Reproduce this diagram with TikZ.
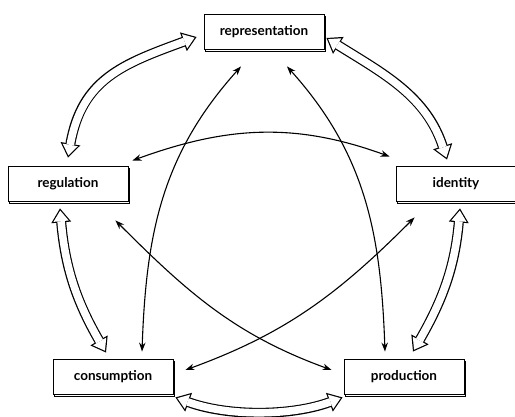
\documentclass[tikz,border=0pt]{standalone}
\usepackage{fontspec}
\setmainfont{Lato}
\usetikzlibrary{positioning,arrows.meta,shadows}

\tikzset{
  stage/.style={draw, fill=white, line width=0.9pt, minimum width=120pt, minimum height=35pt, inner sep=0pt,
    font=\fontsize{13.5}{15}\selectfont\bfseries, copy shadow={shadow xshift=1.6pt, shadow yshift=-1.6pt}},
  link/.style={line width=1.1pt, {Stealth[length=9pt,width=6.5pt]}-{Stealth[length=9pt,width=6.5pt]}},
  flow/.style={preaction={draw=black, line width=10pt, shorten <=0pt, shorten >=0pt,
      {Triangle[width=20pt,length=14pt,line width=0pt]}-{Triangle[width=20pt,length=14pt,line width=0pt]}},
    draw=white, line width=7.6pt, shorten <=2.1pt, shorten >=2.1pt,
    {Triangle[width=15.3pt,length=10.7pt,line width=0pt]}-{Triangle[width=15.3pt,length=10.7pt,line width=0pt]}}
}

\begin{document}
\begin{tikzpicture}[x=1pt, y=1pt, on grid]
  \useasboundingbox (0,0) rectangle (515,417);
  \node[stage] (rep) at (264,385) {representation};
  \node[stage, below left=152pt and 196pt of rep] (reg) {regulation};
  \node[stage, below right=152pt and 192pt of rep] (ident) {identity};
  \node[stage, below right=193pt and 45pt of reg] (cons) {consumption};
  \node[stage, right=291pt of cons] (prod) {production};

  \draw[flow] ([xshift=2pt,yshift=-6pt]rep.east) to[out=-32, in=108] ([xshift=-9pt,yshift=6.5pt]ident.north);
  \draw[flow] ([xshift=-7pt,yshift=-5pt]rep.west) to[out=200, in=80, looseness=1.15] ([yshift=8.5pt]reg.north);
  \draw[flow] ([xshift=-8pt,yshift=-6.5pt]reg.south) to[out=-85, in=120] ([xshift=-7pt,yshift=6.5pt]cons.north);
  \draw[flow] ([xshift=4pt,yshift=-6.5pt]ident.south) to[out=-95, in=60] ([xshift=9pt,yshift=7.5pt]prod.north);
  \draw[flow] ([xshift=2pt,yshift=-2.5pt]cons.south east) to[out=-20, in=200, looseness=0.85] ([xshift=-1pt,yshift=-2.5pt]prod.south west);

  \draw[link] ([xshift=-23pt,yshift=-16.5pt]rep.south) to[out=228, in=88] ([xshift=29pt,yshift=7.5pt]cons.north);
  \draw[link] ([xshift=23pt,yshift=-16.5pt]rep.south) to[out=-48, in=92] ([xshift=-19pt,yshift=7.5pt]prod.north);
  \draw[link] ([xshift=4pt,yshift=5.5pt]reg.north east) to[out=20, in=160] ([xshift=-6pt,yshift=9.5pt]ident.north west);
  \draw[link] ([xshift=-13pt,yshift=-18.5pt]reg.south east) to[out=-45, in=160] ([xshift=-12pt,yshift=7pt]prod.west);
  \draw[link] ([xshift=19pt,yshift=-15.5pt]ident.south west) to[out=225, in=20] ([xshift=12pt,yshift=7pt]cons.east);
\end{tikzpicture}
\end{document}
